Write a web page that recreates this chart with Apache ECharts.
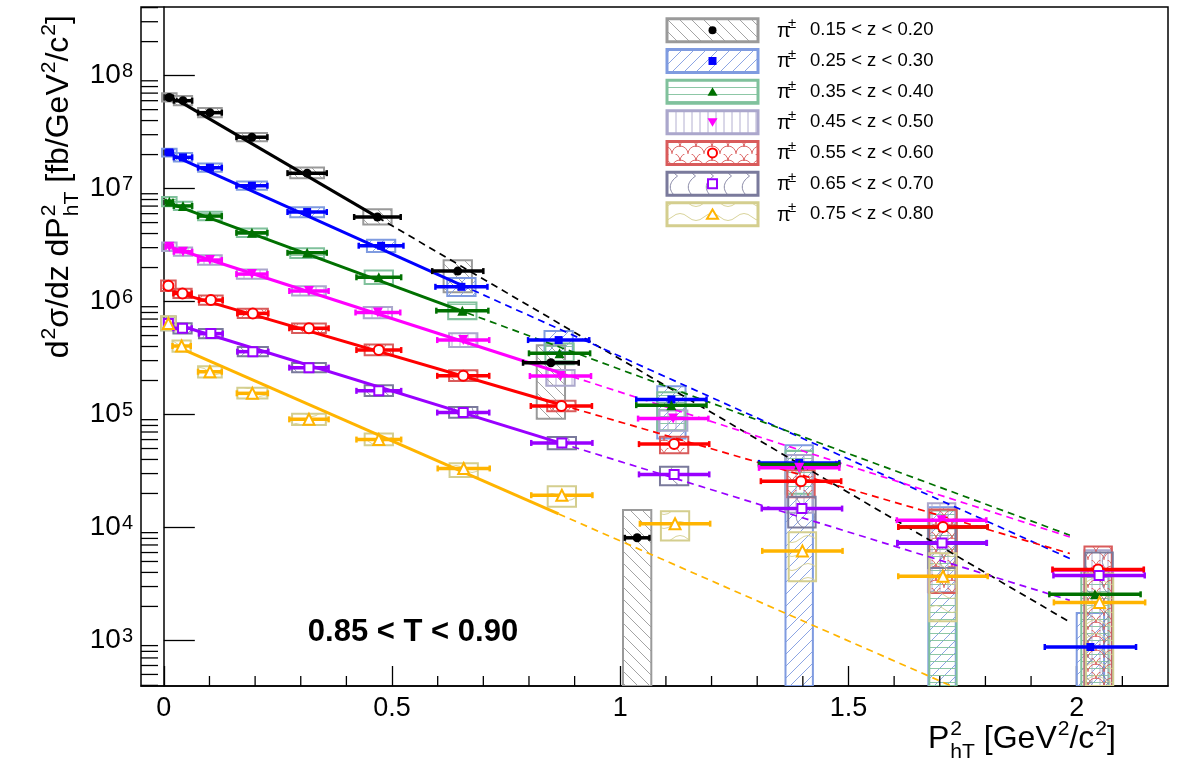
<!DOCTYPE html>
<html>
<head>
<meta charset="utf-8">
<script src="https://cdn.jsdelivr.net/npm/echarts@6/dist/echarts.min.js"></script>
<style>
html, body { margin: 0; padding: 0; background: #fff; }
#main { width: 1182px; height: 763px; }
</style>
</head>
<body>
<div id="main"></div>
<script>
var FONT = '"Liberation Sans", Arial, Helvetica, sans-serif';

// ---- axis ranges / ticks
var xMin = -0.05, xMax = 2.2;
var yMin = 395, yMax = 4.05e8;
var xMinorTicks = [0.1, 0.2, 0.3, 0.4, 0.6, 0.7, 0.8, 0.9, 1.1, 1.2, 1.3, 1.4, 1.6, 1.7, 1.8, 1.9, 2.1];
var yMinorMult = [2, 3, 4, 5, 6, 7, 8, 9];

var zLabels = ['0.15 < z < 0.20', '0.25 < z < 0.30', '0.35 < z < 0.40', '0.45 < z < 0.50',
               '0.55 < z < 0.60', '0.65 < z < 0.70', '0.75 < z < 0.80'];

// half widths of the P_hT^2 bars and of the systematic boxes, per bin
var binXErr = [0.008, 0.02, 0.026, 0.034, 0.043, 0.049, 0.057, 0.067, 0.077, 0.088, 0.098, 0.1];
var binBoxHalf = [0.016, 0.02, 0.026, 0.033, 0.037, 0.031, 0.031, 0.031, 0.031, 0.03, 0.03, 0.03];

// 0.15 < z < 0.20
var x_015 = [0.012, 0.042, 0.101, 0.193, 0.314, 0.468, 0.644, 0.848, 1.037];
var y_015 = [6.4e7, 6.0e7, 4.7e7, 2.85e7, 1.37e7, 5.6e6, 1.86e6, 2.87e5, 8.1e3];
var up_015 = [0.09, 0.1, 0.1, 0.09, 0.12, 0.17, 0.25, 0.43, 0.76];
var dn_015 = [0.08, 0.09, 0.09, 0.08, 0.1, 0.14, 0.35, 0.68, 1];
var xe_015 = [0.008, 0.02, 0.026, 0.034, 0.043, 0.051, 0.056, 0.061, 0.027];
// 0.25 < z < 0.30
var x_025 = [0.012, 0.042, 0.101, 0.193, 0.314, 0.476, 0.652, 0.865, 1.112, 1.392, 1.705, 2.03];
var y_025 = [2.09e7, 1.89e7, 1.53e7, 1.06e7, 6.2e6, 3.12e6, 1.35e6, 4.56e5, 1.36e5, 3.73e4, 7.3e3, 875];
var up_025 = [0.08, 0.09, 0.09, 0.09, 0.1, 0.13, 0.2, 0.2, 0.31, 0.43, 1.07, 1.0];
var dn_025 = [0.08, 0.08, 0.08, 0.08, 0.1, 0.12, 0.17, 0.22, 0.55, 1, 1, 1];
// 0.35 < z < 0.40
var x_035 = [0.012, 0.042, 0.101, 0.193, 0.314, 0.471, 0.654, 0.867, 1.112, 1.392, 1.707, 2.04];
var y_035 = [7.66e6, 7.02e6, 5.71e6, 4.06e6, 2.7e6, 1.64e6, 8.3e5, 3.48e5, 1.21e5, 3.61e4, 1.01e4, 2.56e3];
var up_035 = [0.1, 0.09, 0.09, 0.09, 0.1, 0.15, 0.18, 0.22, 0.3, 0.32, 0.4, 0.6];
var dn_035 = [0.09, 0.08, 0.08, 0.08, 0.1, 0.13, 0.16, 0.2, 0.4, 0.45, 1, 1];
// 0.45 < z < 0.50
var x_045 = [0.012, 0.042, 0.101, 0.193, 0.318, 0.469, 0.656, 0.869, 1.116, 1.392, 1.704, 2.047];
var y_045 = [3.05e6, 2.76e6, 2.33e6, 1.75e6, 1.24e6, 8.0e5, 4.56e5, 2.19e5, 9.2e4, 3.37e4, 1.16e4, 4.2e3];
var up_045 = [0.09, 0.09, 0.1, 0.1, 0.1, 0.12, 0.15, 0.13, 0.18, 0.3, 0.41, 0.5];
var dn_045 = [0.08, 0.08, 0.09, 0.09, 0.09, 0.11, 0.13, 0.18, 0.22, 0.6, 0.77, 1];
// 0.55 < z < 0.60
var x_055 = [0.01, 0.041, 0.103, 0.195, 0.318, 0.471, 0.656, 0.871, 1.118, 1.396, 1.707, 2.047];
var y_055 = [1.38e6, 1.18e6, 1.03e6, 7.85e5, 5.8e5, 3.72e5, 2.2e5, 1.19e5, 5.47e4, 2.57e4, 1.01e4, 4.25e3];
var up_055 = [0.11, 0.1, 0.1, 0.1, 0.1, 0.12, 0.12, 0.11, 0.16, 0.25, 0.43, 0.6];
var dn_055 = [0.1, 0.09, 0.09, 0.09, 0.09, 0.1, 0.1, 0.1, 0.17, 0.28, 0.74, 1];
// 0.65 < z < 0.70
var x_065 = [0.01, 0.041, 0.103, 0.195, 0.318, 0.471, 0.656, 0.872, 1.118, 1.398, 1.705, 2.049];
var y_065 = [6.4e5, 5.8e5, 5.2e5, 3.6e5, 2.6e5, 1.62e5, 1.04e5, 5.6e4, 2.95e4, 1.47e4, 7.3e3, 3.76e3];
var up_065 = [0.15, 0.11, 0.1, 0.1, 0.1, 0.12, 0.12, 0.13, 0.17, 0.27, 0.35, 0.6];
var dn_065 = [0.13, 0.1, 0.09, 0.09, 0.09, 0.1, 0.1, 0.12, 0.2, 0.32, 0.4, 1];
// 0.75 < z < 0.80
var x_075 = [0.01, 0.039, 0.101, 0.194, 0.318, 0.471, 0.657, 0.872, 1.12, 1.399, 1.707, 2.05];
var y_075 = [6.4e5, 4.04e5, 2.39e5, 1.54e5, 9.06e4, 6.0e4, 3.33e4, 1.93e4, 1.08e4, 6.2e3, 3.7e3, 2.17e3];
var up_075 = [0.16, 0.12, 0.12, 0.12, 0.12, 0.13, 0.11, 0.2, 0.29, 0.46, 0.6, 0.8];
var dn_075 = [0.13, 0.11, 0.11, 0.1, 0.11, 0.11, 0.16, 0.21, 0.29, 0.46, 0.6, 1];

// exponential fits: log10(y) = logA + slope * x, solid on the fit range, dashed beyond
var fitLogA  = [7.853, 7.330, 6.889, 6.500, 6.114, 5.832, 5.651];
var fitSlope = [-2.363, -1.816, -1.490, -1.302, -1.181, -1.248, -1.770];
var fitFrom  = [0.026, 0.022, 0.022, 0.022, 0.022, 0.044, 0.037];
var fitTo    = [0.468, 0.652, 0.665, 0.87, 0.87, 0.87, 0.865];
var fitExtTo = [1.985, 1.985, 1.985, 1.985, 1.985, 1.985, 1.985];

// ---- styles
var colors = ['#000000', '#0000ff', '#007000', '#ff00ff', '#ff0000', '#9900ff', '#ffb400'];
var sysColors = ['#9a9a9a', '#7f9be0', '#80c19c', '#aba7cc', '#d95b5b', '#7a7a9c', '#d4ce8e'];
var hatchKinds = ['back', 'fwd', 'h', 'v', 'scale', 'waveV', 'waveH'];
var symbols = ['circle', 'rect', 'triangle', 'triangle', 'circle', 'rect', 'triangle'];
var symSizes = [9, 8, 10, 10, 10, 9, 11];
var hollow = [false, false, false, false, true, true, true];
var rotations = [0, 0, 0, 180, 0, 0, 0];

var sets = [
  { x: x_015, y: y_015, up: up_015, dn: dn_015, xe: xe_015 },
  { x: x_025, y: y_025, up: up_025, dn: dn_025 },
  { x: x_035, y: y_035, up: up_035, dn: dn_035 },
  { x: x_045, y: y_045, up: up_045, dn: dn_045 },
  { x: x_055, y: y_055, up: up_055, dn: dn_055 },
  { x: x_065, y: y_065, up: up_065, dn: dn_065 },
  { x: x_075, y: y_075, up: up_075, dn: dn_075 }
];

function hatch(kind, color) {
  var c = document.createElement('canvas');
  var w = 12, h = 12;
  if (kind === 'h') { w = 8; h = 7; }
  if (kind === 'v') { w = 8; h = 8; }
  if (kind === 'scale') { w = 16; h = 14; }
  if (kind === 'waveV') { w = 18; h = 22; }
  if (kind === 'waveH') { w = 32; h = 14; }
  c.width = w; c.height = h;
  var g = c.getContext('2d');
  g.strokeStyle = color;
  g.lineWidth = 0.9;
  g.beginPath();
  var k;
  if (kind === 'back') {
    for (k = -1; k <= 1; k++) { g.moveTo(k * w, 0); g.lineTo(k * w + w, h); }
  } else if (kind === 'fwd') {
    for (k = -1; k <= 1; k++) { g.moveTo(k * w, h); g.lineTo(k * w + w, 0); }
  } else if (kind === 'h') {
    g.moveTo(0, h / 2); g.lineTo(w, h / 2);
  } else if (kind === 'v') {
    g.moveTo(w / 2, 0); g.lineTo(w / 2, h);
  } else if (kind === 'scale') {
    g.moveTo(w, h); g.arc(w / 2, h, w / 2, 0, Math.PI, true);
    g.moveTo(w / 2, h / 2); g.arc(0, h / 2, w / 2, 0, -Math.PI / 2, true);
    g.moveTo(w, h / 2 - w / 2); g.arc(w, h / 2, w / 2, -Math.PI / 2, Math.PI, true);
  } else if (kind === 'waveV') {
    g.moveTo(w * 0.65, 0);
    g.bezierCurveTo(w * 0.1, h * 0.3, w * 0.1, h * 0.7, w * 0.65, h);
  } else if (kind === 'waveH') {
    g.moveTo(0, h / 2);
    g.quadraticCurveTo(w / 4, 0, w / 2, h / 2);
    g.quadraticCurveTo(w * 3 / 4, h, w, h / 2);
  }
  g.stroke();
  return { image: c, repeat: 'repeat' };
}
var patterns = hatchKinds.map(function (k, i) { return hatch(k, sysColors[i]); });

var series = [];

// minor ticks
var yMinorData = [];
for (var e = 2; e <= 8; e++) {
  yMinorMult.forEach(function (m) {
    var v = m * Math.pow(10, e);
    if (v > yMin && v < yMax) yMinorData.push([xMin, v]);
  });
}
series.push({
  type: 'custom', silent: true, z: 5, data: yMinorData, encode: { x: 0, y: 1 },
  renderItem: function (params, api) {
    var p = api.coord([api.value(0), api.value(1)]);
    return { type: 'line', shape: { x1: p[0], y1: p[1], x2: p[0] + 17, y2: p[1] }, style: { stroke: '#000', lineWidth: 1.3 } };
  }
});
series.push({
  type: 'custom', silent: true, z: 5, data: xMinorTicks.map(function (v) { return [v, yMin]; }), encode: { x: 0, y: 1 },
  renderItem: function (params, api) {
    var p = api.coord([api.value(0), api.value(1)]);
    return { type: 'line', shape: { x1: p[0], y1: p[1], x2: p[0], y2: p[1] - 10 }, style: { stroke: '#000', lineWidth: 1.3 } };
  }
});

sets.forEach(function (s, i) {
  // systematic boxes
  series.push({
    type: 'custom', silent: true, z: 1, clip: true, encode: { x: 0, y: 1 },
    data: s.x.map(function (xv, j) { return [xv, s.y[j], binBoxHalf[j], s.up[j], s.dn[j]]; }),
    renderItem: function (params, api) {
      var xv = api.value(0), yv = api.value(1), hw = api.value(2);
      var hi = yv * (1 + api.value(3));
      var lo = api.value(4) >= 1 ? yMin : yv * (1 - api.value(4));
      var a = api.coord([xv - hw, hi]);
      var b = api.coord([xv + hw, lo]);
      return {
        type: 'rect',
        shape: { x: a[0], y: a[1], width: b[0] - a[0], height: b[1] - a[1] },
        style: { fill: patterns[i], stroke: sysColors[i], lineWidth: 2 }
      };
    }
  });
});

sets.forEach(function (s, i) {
  var f = function (x) { return Math.pow(10, fitLogA[i] + fitSlope[i] * x); };
  series.push({
    type: 'line', z: 2, silent: true, showSymbol: false, symbol: 'none',
    data: [[fitFrom[i], f(fitFrom[i])], [fitTo[i], f(fitTo[i])]],
    lineStyle: { color: colors[i], width: 3 }
  });
  series.push({
    type: 'line', z: 2, silent: true, showSymbol: false, symbol: 'none',
    data: [[fitTo[i], f(fitTo[i])], [fitExtTo[i], f(fitExtTo[i])]],
    lineStyle: { color: colors[i], width: 1.7, type: [7, 5] }
  });
});

sets.forEach(function (s, i) {
  // horizontal bars
  series.push({
    type: 'custom', silent: true, z: 3, encode: { x: 0, y: 1 },
    data: s.x.map(function (xv, j) { return [xv, s.y[j], s.xe ? s.xe[j] : binXErr[j]]; }),
    renderItem: function (params, api) {
      var xv = api.value(0), yv = api.value(1), xe = api.value(2);
      var a = api.coord([xv - xe, yv]);
      var b = api.coord([xv + xe, yv]);
      var st = { stroke: colors[i], lineWidth: 3.5 };
      var cap = { stroke: colors[i], lineWidth: 2.5 };
      return {
        type: 'group', children: [
          { type: 'line', shape: { x1: a[0], y1: a[1], x2: b[0], y2: b[1] }, style: st },
          { type: 'line', shape: { x1: a[0], y1: a[1] - 3, x2: a[0], y2: a[1] + 3 }, style: cap },
          { type: 'line', shape: { x1: b[0], y1: b[1] - 3, x2: b[0], y2: b[1] + 3 }, style: cap }
        ]
      };
    }
  });
  series.push({
    type: 'scatter', z: 4, silent: true,
    symbol: symbols[i], symbolSize: symSizes[i], symbolRotate: rotations[i],
    data: s.x.map(function (xv, j) { return [xv, s.y[j]]; }),
    itemStyle: hollow[i]
      ? { color: '#ffffff', borderColor: colors[i], borderWidth: 2, opacity: 1 }
      : { color: colors[i], opacity: 1 }
  });
});

// ---- text helpers for titles with super/subscripts
var mctx = document.createElement('canvas').getContext('2d');
function tw(t, size, weight) {
  mctx.font = (weight || 'normal') + ' ' + size + 'px ' + FONT;
  return mctx.measureText(t).width;
}
function txt(t, x, base, size) {
  return {
    type: 'text', x: x, y: base - size * 0.35,
    style: { text: t, font: size + 'px ' + FONT, fill: '#000', align: 'left', textAlign: 'left', verticalAlign: 'middle', textVerticalAlign: 'middle' }
  };
}
function buildTitle(parts, size) {
  var small = size * 0.66, x = 0, els = [];
  parts.forEach(function (p) {
    var t = p[0], k = p[1];
    if (k === 'n') { els.push(txt(t, x, 0, size)); x += tw(t, size); }
    else if (k === 'sup') { els.push(txt(t, x + 1, -size * 0.43, small)); x += tw(t, small) + 1; }
    else if (k === 'ss') {
      var a = t.split('|');
      els.push(txt(a[0], x + 1, -size * 0.43, small));
      els.push(txt(a[1], x + 1, size * 0.3, small));
      x += Math.max(tw(a[0], small), tw(a[1], small)) + 1;
    }
  });
  els.forEach(function (el) { el.x -= x; });
  return els;
}

var yTitle = buildTitle([['d', 'n'], ['2', 'sup'], ['\u03c3/dz dP', 'n'], ['2|hT', 'ss'], [' [fb/GeV', 'n'], ['2', 'sup'], ['/c', 'n'], ['2', 'sup'], [']', 'n']], 32);
var xTitle = buildTitle([['P', 'n'], ['2|hT', 'ss'], [' [GeV', 'n'], ['2', 'sup'], ['/c', 'n'], ['2', 'sup'], [']', 'n']], 32);

// ---- legend
var legendEls = [];
zLabels.forEach(function (lab, i) {
  var cy = 30.3 + i * 30.67, cx = 712.5;
  legendEls.push({ type: 'rect', shape: { x: 667, y: cy - 11.5, width: 91, height: 23 }, style: { fill: patterns[i], stroke: sysColors[i], lineWidth: 3 } });
  var mst = hollow[i] ? { fill: '#fff', stroke: colors[i], lineWidth: 2 } : { fill: colors[i] };
  var r = symSizes[i] / 2;
  if (symbols[i] === 'circle') legendEls.push({ type: 'circle', shape: { cx: cx, cy: cy, r: r - 0.5 }, style: mst });
  else if (symbols[i] === 'rect') legendEls.push({ type: 'rect', shape: { x: cx - r, y: cy - r, width: 2 * r, height: 2 * r }, style: mst });
  else {
    var pts = rotations[i] ? [[cx - r, cy - r * 0.8], [cx + r, cy - r * 0.8], [cx, cy + r * 0.9]] : [[cx - r, cy + r * 0.8], [cx + r, cy + r * 0.8], [cx, cy - r * 0.9]];
    legendEls.push({ type: 'polygon', shape: { points: pts }, style: mst });
  }
  legendEls.push({ type: 'text', x: 777, y: cy + 1, style: { text: '\u03c0', font: '20px ' + FONT, fill: '#000', verticalAlign: 'middle', textVerticalAlign: 'middle' } });
  legendEls.push({ type: 'text', x: 788, y: cy - 6, style: { text: '\u00b1', font: '15px ' + FONT, fill: '#000', verticalAlign: 'middle', textVerticalAlign: 'middle' } });
  legendEls.push({ type: 'text', x: 810, y: cy, style: { text: lab, font: '18.5px ' + FONT, fill: '#000', verticalAlign: 'middle', textVerticalAlign: 'middle' } });
});

var chart = echarts.init(document.getElementById('main'), null, { renderer: 'canvas' });
chart.setOption({
  animation: false,
  backgroundColor: '#ffffff',
  grid: { left: 141, right: 14, top: 7, bottom: 77, show: true, borderColor: '#000', borderWidth: 1.5, containLabel: false },
  xAxis: {
    type: 'value', min: xMin, max: xMax, splitNumber: 5,
    axisLine: { show: true, onZero: false, lineStyle: { color: '#000', width: 1.5 } },
    axisTick: { show: true, inside: true, length: 20, lineStyle: { color: '#000', width: 1.3 } },
    axisLabel: {
      color: '#000', fontSize: 27, fontFamily: FONT, margin: 9, showMinLabel: false, showMaxLabel: false,
      formatter: function (v) { return Math.abs(v * 2 - Math.round(v * 2)) < 1e-6 ? String(Math.round(v * 2) / 2) : ''; }
    },
    splitLine: { show: false }
  },
  yAxis: {
    type: 'log', logBase: 10, min: yMin, max: yMax,
    axisLine: { show: true, lineStyle: { color: '#000', width: 1.5 } },
    axisTick: { show: true, inside: true, length: 31, lineStyle: { color: '#000', width: 1.3 } },
    axisLabel: {
      color: '#000', margin: 8, showMinLabel: false, showMaxLabel: false,
      formatter: function (v) {
        var l = Math.log10(v), e = Math.round(l);
        if (Math.abs(l - e) > 1e-6) return '';
        return '{b|10}{s|' + e + '}';
      },
      rich: {
        b: { fontSize: 28, fontFamily: FONT, color: '#000' },
        s: { fontSize: 20, fontFamily: FONT, color: '#000', verticalAlign: 'top', padding: [0, 0, 6, 1] }
      }
    },
    splitLine: { show: false }
  },
  series: series,
  graphic: [
    { type: 'group', x: 70, y: 15, rotation: Math.PI / 2, z: 20, children: yTitle },
    { type: 'group', x: 1116, y: 750, z: 20, children: xTitle },
    { type: 'text', x: 413, y: 632, z: 20, style: { text: '0.85 < T < 0.90', font: 'bold 31px ' + FONT, fill: '#000', align: 'center', textAlign: 'center', verticalAlign: 'middle', textVerticalAlign: 'middle' } },
    { type: 'group', z: 20, children: legendEls }
  ]
});
</script>
</body>
</html>
